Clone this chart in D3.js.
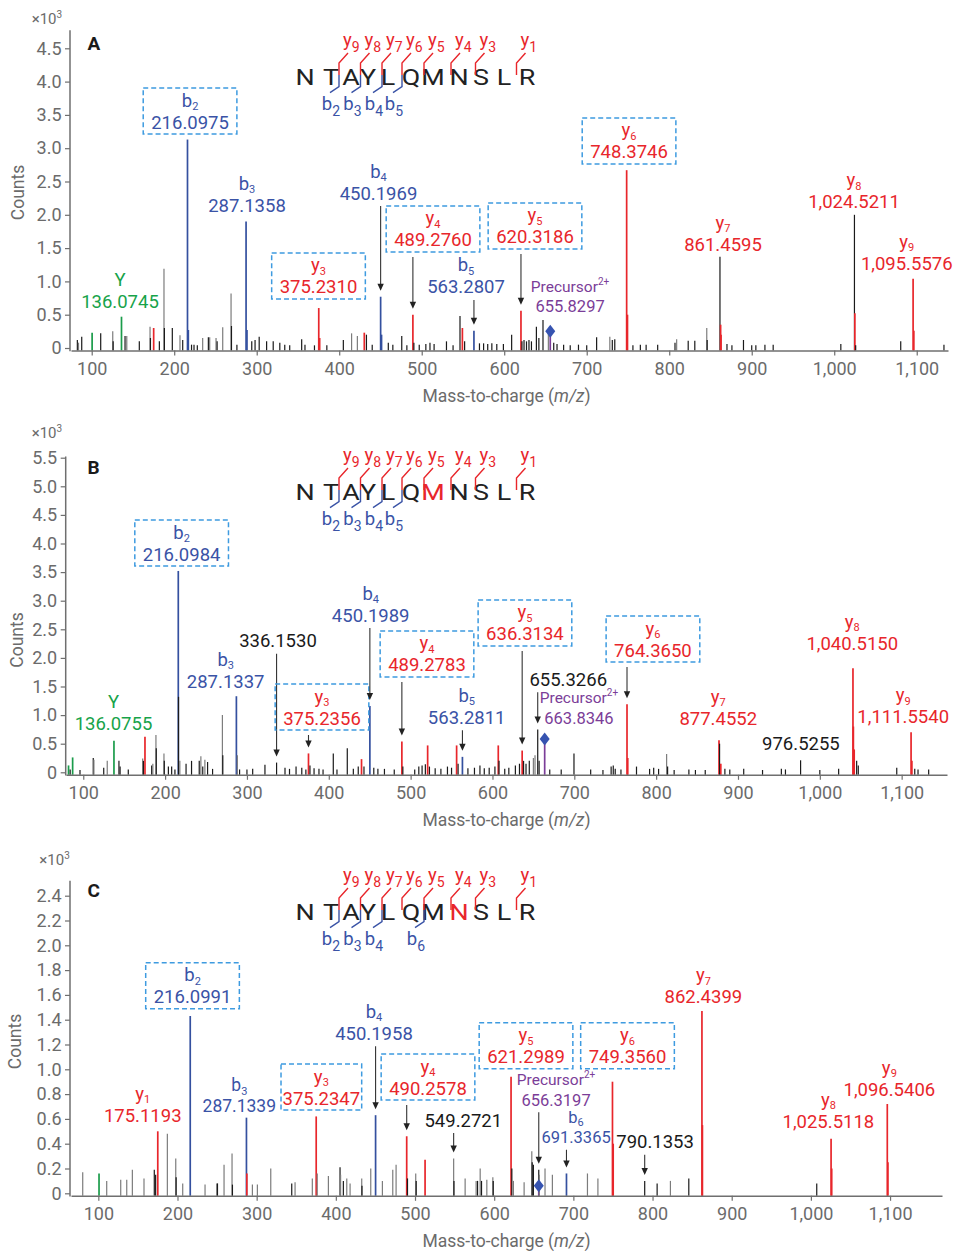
<!DOCTYPE html>
<html><head><meta charset="utf-8">
<script src="https://cdn.jsdelivr.net/npm/d3@7"></script>
<style>body{margin:0;background:#fff}svg{display:block}text{font-family:Roboto,"Noto Sans",sans-serif}</style>
</head><body><svg id="c" width="954" height="1251"></svg>
<script>
// ---------------- DATA ----------------
const peptide = ["N","T","A","Y","L","Q","M","N","S","L","R"];
const xTickValues = [100,200,300,400,500,600,700,800,900,1000,1100];
const yTicksA = [0,0.5,1,1.5,2,2.5,3,3.5,4,4.5];
const yTicksB = [0,0.5,1,1.5,2,2.5,3,3.5,4,4.5,5,5.5];
const yTicksC = [0,0.2,0.4,0.6,0.8,1,1.2,1.4,1.6,1.8,2,2.2,2.4];
const yIonsA = [9,8,7,6,5,4,3,1], bIonsA = [2,3,4,5];
const yIonsB = [9,8,7,6,5,4,3,1], bIonsB = [2,3,4,5];
const yIonsC = [9,8,7,6,5,4,3,1], bIonsC = [2,3,4,6];

// peaks: [m/z, counts (x10^3), type]  k=black g=grey r=y-ion b=b-ion G=immonium p=precursor
const peaksA = [[82.6,0.12,'k'],[84,0.08,'g'],[87.9,0.17,'k'],[100.5,0.23,'G'],[110.9,0.22,'k'],[125.5,0.25,'g'],[126,0.1,'k'],[136.1,0.47,'G'],[140.4,0.18,'k'],[142.5,0.18,'g'],[157.7,0.1,'k'],[170.7,0.32,'g'],[171.2,0.15,'k'],[175.1,0.3,'r'],[182,0.1,'k'],[187.6,1.19,'g'],[188.1,0.3,'k'],[197.7,0.3,'k'],[207,0.19,'g'],[210.3,0.12,'k'],[216.1,3.13,'b'],[217.1,0.27,'b'],[221,0.05,'k'],[224,0.05,'k'],[228,0.04,'k'],[234.5,0.15,'g'],[241.4,0.16,'k'],[243,0.16,'g'],[250.7,0.15,'g'],[252,0.1,'k'],[258.8,0.31,'g'],[268.9,0.82,'g'],[269.4,0.33,'k'],[276,0.05,'k'],[287.1,1.9,'b'],[288.2,0.27,'b'],[294,0.1,'k'],[298,0.12,'k'],[303,0.17,'k'],[312,0.1,'k'],[320,0.1,'k'],[328,0.08,'k'],[334,0.05,'k'],[340,0.04,'k'],[354.5,0.13,'k'],[358.5,0.05,'k'],[370,0.04,'k'],[375.2,0.6,'r'],[376.3,0.15,'r'],[385,0.04,'k'],[405,0.12,'k'],[415,0.22,'g'],[422,0.18,'g'],[430.4,0.23,'r'],[433,0.2,'k'],[440,0.05,'k'],[450.2,0.77,'b'],[451.3,0.2,'b'],[459.5,0.08,'k'],[465,0.05,'k'],[475.8,0.18,'k'],[482,0.04,'k'],[489.3,0.5,'r'],[490.5,0.08,'k'],[497,0.05,'k'],[505,0.06,'k'],[510,0.08,'k'],[515,0.06,'k'],[530,0.1,'k'],[538,0.04,'k'],[546.4,0.48,'k'],[549.3,0.3,'r'],[552,0.1,'k'],[563.3,0.26,'b'],[570,0.07,'k'],[575,0.07,'k'],[580,0.06,'k'],[585,0.07,'k'],[591,0.06,'k'],[599,0.06,'k'],[609,0.2,'k'],[620.3,0.56,'r'],[621.5,0.1,'k'],[624,0.12,'k'],[627,0.1,'k'],[630,0.12,'k'],[633,0.1,'k'],[639,0.32,'k'],[642,0.15,'k'],[647,0.42,'k'],[653.5,0.22,'g'],[655.8,0.25,'p'],[660,0.08,'k'],[664,0.06,'k'],[672,0.05,'k'],[680,0.04,'k'],[690,0.05,'k'],[700,0.04,'k'],[712,0.16,'k'],[728,0.17,'g'],[731,0.12,'k'],[734,0.13,'k'],[748.4,2.67,'r'],[749.4,0.5,'r'],[756,0.04,'k'],[765,0.05,'k'],[772,0.05,'k'],[786,0.05,'k'],[807,0.08,'k'],[809,0.13,'g'],[823,0.11,'k'],[831,0.11,'k'],[845.5,0.3,'g'],[846,0.12,'k'],[861.5,1.37,'k'],[862.3,0.35,'r'],[862.8,0.2,'r'],[870,0.06,'k'],[876,0.04,'k'],[890,0.12,'k'],[900,0.04,'k'],[905,0.04,'k'],[916,0.05,'k'],[926,0.05,'k'],[1008,0.06,'k'],[1024.5,2.0,'k'],[1025,0.52,'r'],[1026,0.04,'k'],[1080.6,0.1,'k'],[1095.6,1.04,'r'],[1096.5,0.26,'r'],[1133,0.05,'k']];

const peaksB = [[82,0.12,'G'],[84,0.05,'k'],[87,0.26,'G'],[96,0.04,'k'],[112.2,0.25,'k'],[113,0.22,'g'],[125,0.08,'k'],[129.3,0.2,'g'],[137.5,0.55,'G'],[143.6,0.2,'k'],[145,0.1,'k'],[155,0.05,'k'],[172.6,0.24,'g'],[173.5,0.2,'k'],[175.4,0.62,'r'],[183.6,0.12,'k'],[185,0.15,'g'],[188.8,0.65,'g'],[189.2,0.42,'k'],[198.6,0.33,'g'],[199,0.2,'k'],[204,0.1,'k'],[208,0.1,'k'],[212,0.05,'k'],[216.1,3.52,'b'],[216.4,1.32,'k'],[218,0.2,'g'],[225.6,0.15,'k'],[232.3,0.2,'k'],[241.7,0.2,'k'],[243.7,0.28,'g'],[246,0.1,'k'],[248.6,0.22,'g'],[251.9,0.18,'k'],[258,0.06,'k'],[270,1.0,'g'],[270.5,0.3,'k'],[287.1,1.33,'b'],[288.3,0.3,'g'],[291,0.05,'k'],[300,0.05,'k'],[307,0.06,'k'],[322,0.13,'k'],[336.2,0.17,'k'],[346.5,0.08,'k'],[352,0.06,'k'],[360,0.1,'k'],[367,0.08,'k'],[372,0.05,'k'],[375.2,0.33,'r'],[377,0.12,'k'],[382,0.07,'k'],[388,0.06,'k'],[393,0.05,'k'],[405.5,0.33,'k'],[410,0.05,'k'],[422.6,0.42,'k'],[430,0.06,'k'],[436,0.1,'k'],[440,0.23,'r'],[443,0.1,'k'],[450.2,1.16,'b'],[455,0.08,'k'],[460,0.06,'k'],[468,0.06,'k'],[480,0.05,'k'],[489.3,0.54,'r'],[490.5,0.1,'k'],[505,0.05,'k'],[510,0.1,'k'],[514,0.12,'k'],[518,0.14,'k'],[520.8,0.47,'r'],[523,0.1,'k'],[530,0.07,'k'],[537,0.06,'k'],[545,0.1,'k'],[550,0.08,'k'],[556.2,0.47,'r'],[558,0.15,'k'],[563.3,0.27,'b'],[570,0.07,'k'],[578,0.08,'k'],[584.7,0.12,'k'],[590,0.07,'k'],[596,0.08,'k'],[603,0.1,'k'],[607.1,0.47,'r'],[608,0.2,'k'],[615,0.06,'k'],[620,0.08,'k'],[628,0.12,'k'],[633,0.15,'k'],[636.3,0.38,'r'],[638,0.2,'k'],[641,0.15,'k'],[645,0.2,'k'],[650,0.25,'g'],[652,0.3,'g'],[655.3,0.75,'k'],[657,0.2,'k'],[663.8,0.58,'p'],[670,0.05,'k'],[684,0.05,'k'],[699.6,0.33,'k'],[720,0.05,'k'],[735,0.04,'k'],[745,0.1,'k'],[747.6,0.12,'k'],[750,0.06,'k'],[757,0.05,'k'],[764.4,1.19,'r'],[765.3,0.25,'r'],[776,0.1,'k'],[792,0.06,'k'],[797,0.08,'k'],[803,0.06,'k'],[812.8,0.32,'g'],[814,0.1,'k'],[822,0.04,'k'],[840,0.05,'k'],[848,0.04,'k'],[860,0.04,'k'],[876.8,0.56,'r'],[877.5,0.5,'k'],[879,0.15,'r'],[884,0.06,'k'],[890,0.05,'k'],[907,0.06,'k'],[930,0.04,'k'],[953,0.06,'k'],[958,0.05,'k'],[976.5,0.21,'k'],[1000,0.04,'k'],[1023,0.06,'k'],[1040.5,1.82,'r'],[1041,0.8,'r'],[1042,0.4,'r'],[1045,0.2,'k'],[1047,0.12,'k'],[1094,0.08,'k'],[1111.5,0.7,'r'],[1112.5,0.2,'r'],[1116,0.06,'k'],[1120,0.05,'k'],[1133,0.05,'k']];

const peaksC = [[80.3,0.17,'g'],[100.9,0.16,'G'],[110.6,0.1,'g'],[128.3,0.11,'g'],[135.9,0.11,'g'],[143,0.19,'g'],[157.7,0.12,'g'],[170.7,0.19,'k'],[172.4,0.15,'k'],[175.1,0.5,'r'],[187.2,0.48,'g'],[197.8,0.28,'g'],[198.3,0.13,'k'],[206.6,0.08,'g'],[216.1,1.43,'b'],[234.8,0.07,'g'],[249.6,0.08,'g'],[250.5,0.08,'k'],[258.8,0.23,'g'],[268.9,0.32,'g'],[269.4,0.07,'k'],[287.1,0.61,'b'],[287.6,0.16,'r'],[294.6,0.07,'g'],[300.9,0.07,'g'],[317.8,0.2,'g'],[344.3,0.08,'k'],[348.5,0.09,'g'],[370.3,0.12,'g'],[375.2,0.62,'r'],[376.5,0.16,'g'],[390.6,0.14,'g'],[405.3,0.21,'k'],[406,0.15,'g'],[409.5,0.1,'k'],[413.8,0.12,'g'],[418,0.08,'g'],[432.7,0.12,'g'],[433,0.06,'k'],[444.1,0.2,'g'],[450.2,0.63,'b'],[458.8,0.1,'g'],[471.9,0.19,'g'],[476.1,0.23,'g'],[489.5,0.46,'r'],[490.5,0.12,'k'],[500.9,0.16,'g'],[501.5,0.1,'k'],[512.7,0.27,'r'],[548.8,0.28,'g'],[549.2,0.1,'k'],[563.3,0.12,'g'],[577.2,0.1,'g'],[579,0.1,'k'],[582.3,0.2,'g'],[584,0.1,'k'],[590.7,0.11,'g'],[598.3,0.13,'g'],[598.8,0.1,'k'],[621.3,0.94,'r'],[622.3,0.2,'k'],[624.3,0.1,'g'],[637.8,0.09,'g'],[647.5,0.34,'g'],[648,0.25,'k'],[649.5,0.23,'k'],[656.3,0.19,'k'],[656.3,0.06,'p'],[657,0.15,'g'],[664.2,0.2,'g'],[673.5,0.15,'g'],[691.3,0.16,'b'],[717.8,0.16,'g'],[731,0.12,'g'],[749.4,0.9,'r'],[750.3,0.4,'r'],[790.1,0.1,'k'],[805.8,0.08,'k'],[822.6,0.1,'g'],[845.8,0.12,'k'],[862.4,1.47,'r'],[863,0.55,'r'],[1007.4,0.08,'k'],[1025.5,0.44,'r'],[1026.3,0.2,'r'],[1096.5,0.72,'r'],[1097.3,0.25,'r']];

// annotations: label text; lx/ly = label anchor in data units; to = m/z pointed at by an arrow
const annA = [
 {s:'box',c:'b',ion:'b',n:'2',v:'216.0975',lx:219.2,ly:3.393},
 {s:'txt',c:'b',ion:'b',n:'3',v:'287.1358',lx:288.2,ly:2.147},
 {s:'txt',c:'G',ion:'Y',n:'',v:'136.0745',lx:134.3,ly:0.691},
 {s:'box',c:'r',ion:'y',n:'3',v:'375.2310',lx:374.9,ly:0.916},
 {s:'txt',c:'b',ion:'b',n:'4',v:'450.1969',lx:447.6,ly:2.327,to:450.2},
 {s:'box',c:'r',ion:'y',n:'4',v:'489.2760',lx:513.7,ly:1.622,to:489.3},
 {s:'txt',c:'b',ion:'b',n:'5',v:'563.2807',lx:553.7,ly:0.916,to:563.3},
 {s:'box',c:'r',ion:'y',n:'5',v:'620.3186',lx:637.3,ly:1.667,to:620.3},
 {s:'txt',c:'p',ion:'Precursor',sup:'2+',v:'655.8297',lx:679.8,ly:0.635,dia:655.8},
 {s:'box',c:'r',ion:'y',n:'6',v:'748.3746',lx:751.3,ly:2.943},
 {s:'txt',c:'r',ion:'y',n:'7',v:'861.4595',lx:865.2,ly:1.557},
 {s:'txt',c:'r',ion:'y',n:'8',v:'1,024.5211',lx:1024,ly:2.197},
 {s:'txt',c:'r',ion:'y',n:'9',v:'1,095.5576',lx:1087.9,ly:1.272}
];
const annB = [
 {s:'box',c:'b',ion:'b',n:'2',v:'216.0984',lx:220.2,ly:3.816},
 {s:'txt',c:'G',ion:'Y',n:'',v:'136.0755',lx:136.9,ly:0.857},
 {s:'txt',c:'b',ion:'b',n:'3',v:'287.1337',lx:274.0,ly:1.596},
 {s:'txt',c:'k',ion:'',n:'',v:'336.1530',lx:337.9,ly:2.301,to:336.2},
 {s:'box',c:'r',ion:'y',n:'3',v:'375.2356',lx:391.7,ly:0.949,to:375.2},
 {s:'txt',c:'b',ion:'b',n:'4',v:'450.1989',lx:451.2,ly:2.75,to:450.2},
 {s:'box',c:'r',ion:'y',n:'4',v:'489.2783',lx:520,ly:1.876,to:489.3},
 {s:'txt',c:'b',ion:'b',n:'5',v:'563.2811',lx:568.5,ly:0.962,to:563.3},
 {s:'box',c:'r',ion:'y',n:'5',v:'636.3134',lx:639.7,ly:2.418,to:636.3},
 {s:'txt',c:'k',ion:'',n:'',v:'655.3266',lx:692.6,ly:1.626,to:655.3},
 {s:'txt',c:'p',ion:'Precursor',sup:'2+',v:'663.8346',lx:705.7,ly:0.962,dia:663.8},
 {s:'box',c:'r',ion:'y',n:'6',v:'764.3650',lx:796.1,ly:2.138,to:764.4},
 {s:'txt',c:'r',ion:'y',n:'7',v:'877.4552',lx:875.9,ly:0.944},
 {s:'txt',c:'k',ion:'',n:'',v:'976.5255',lx:976.9,ly:0.507},
 {s:'txt',c:'r',ion:'y',n:'8',v:'1,040.5150',lx:1039.6,ly:2.255},
 {s:'txt',c:'r',ion:'y',n:'9',v:'1,111.5540',lx:1101.9,ly:0.972}
];
const annC = [
 {s:'box',c:'b',ion:'b',n:'2',v:'216.0991',lx:219,ly:1.585},
 {s:'txt',c:'r',ion:'y',n:'1',v:'175.1193',lx:156.1,ly:0.631},
 {s:'txt',c:'b',ion:'b',n:'3',v:'287.1339',lx:278.1,ly:0.712,sz:'m'},
 {s:'box',c:'r',ion:'y',n:'3',v:'375.2347',lx:381.7,ly:0.768,tight:true},
 {s:'txt',c:'b',ion:'b',n:'4',v:'450.1958',lx:448.2,ly:1.29,to:450.2},
 {s:'box',c:'r',ion:'y',n:'4',v:'490.2578',lx:516.4,ly:0.849,to:489.5},
 {s:'txt',c:'k',ion:'',n:'',v:'549.2721',lx:561,ly:0.591,to:548.8},
 {s:'box',c:'r',ion:'y',n:'5',v:'621.2989',lx:640.2,ly:1.102},
 {s:'box',c:'r',ion:'y',n:'6',v:'749.3560',lx:768.4,ly:1.102},
 {s:'txt',c:'p',ion:'Precursor',sup:'2+',v:'656.3197',lx:678.1,ly:0.758,to:656.3,dia:656.3},
 {s:'txt',c:'b',ion:'b',n:'6',v:'691.3365',lx:703.4,ly:0.456,to:691.3,sz:'s'},
 {s:'txt',c:'k',ion:'',n:'',v:'790.1353',lx:803.2,ly:0.416,to:790.1},
 {s:'txt',c:'r',ion:'y',n:'7',v:'862.4399',lx:864.2,ly:1.585},
 {s:'txt',c:'r',ion:'y',n:'8',v:'1,025.5118',lx:1022.1,ly:0.583},
 {s:'txt',c:'r',ion:'y',n:'9',v:'1,096.5406',lx:1099.1,ly:0.839}
];

// ---------------- LAYOUT / STYLE ----------------
const panels = [
 {key:'A',peaks:peaksA,ann:annA,yt:yTicksA,yI:yIonsA,bI:bIonsA,hl:-1,
  ax:70,xr:[71,948],xd:[74.9,1137.9],y0:348,k:66.6,ymax:4.77,pepB:85,letY:50,expX:31.7,expY:24,cX:18.3,cY:192.5,tY:402},
 {key:'B',peaks:peaksB,ann:annB,yt:yTicksB,yI:yIonsB,bI:bIonsB,hl:6,
  ax:65.7,xr:[66,947],xd:[78.9,1155.4],y0:772.3,k:57.2,ymax:5.52,pepB:500,letY:474,expX:31.7,expY:438,cX:17,cY:640,tY:826},
 {key:'C',peaks:peaksC,ann:annC,yt:yTicksC,yI:yIonsC,bI:bIonsC,hl:7,
  ax:70,xr:[71,942],xd:[65.5,1165.6],y0:1193.3,k:124,ymax:2.52,pepB:920,letY:896.7,expX:39.3,expY:865,cX:15,cY:1041.5,tY:1247}
];
const letterX = [305,331,351,368,388,411,433,459,481,504,527];
const bound = {1:318,2:339,3:360.5,4:382,5:402,6:424,7:451,8:475.5,9:494,10:516.5};
const PC = {k:'#1a1a1a',g:'#7c7c7c',r:'#e8262b',b:'#34509f',G:'#1b9c4b',p:'#7b3d98'};
const TC = {k:'#1a1a1a',r:'#e8262b',b:'#3a53a6',G:'#17a34a',p:'#7b3d98'};
const SIZES = {l:18.5, m:17.5, s:16.5};
const GREY = '#6b6b6b', AXC = '#6f6f6f', BOX = '#3e9be0';
const FONT = 'Roboto, "Noto Sans", sans-serif';

const svg = d3.select('#c');

panels.forEach(P => {
  const g = svg.append('g');
  const x = d3.scaleLinear().domain(P.xd).range(P.xr);
  const y = d3.scaleLinear().domain([0, P.ymax]).range([P.y0, P.y0 - P.ymax * P.k]);
  const axisY = P.y0 + 2.5;

  // peaks
  g.append('g').selectAll('line').data(P.peaks).join('line')
    .attr('x1', d => x(d[0])).attr('x2', d => x(d[0]))
    .attr('y1', axisY).attr('y2', d => y(d[1]))
    .attr('stroke', d => PC[d[2]])
    .attr('stroke-width', d => (d[2] === 'k' || d[2] === 'g') ? 1.2 : 1.7);

  // x axis
  const xa = g.append('g').attr('transform', `translate(0,${axisY})`)
    .call(d3.axisBottom(x).tickValues(xTickValues).tickFormat(d3.format(',')).tickSize(5).tickSizeOuter(0).tickPadding(6.5));
  xa.attr('font-family', FONT).attr('font-size', 18);
  xa.select('.domain').attr('stroke', AXC).attr('stroke-width', 1.5);
  xa.selectAll('.tick line').attr('stroke', AXC).attr('stroke-width', 1.2);
  xa.selectAll('.tick text').attr('fill', GREY);

  // y axis
  const ya = g.append('g').attr('transform', `translate(${P.ax},0)`)
    .call(d3.axisLeft(y).tickValues(P.yt).tickFormat(d => d === 0 ? '0' : d.toFixed(1)).tickSize(5).tickSizeOuter(0).tickPadding(3.5));
  ya.attr('font-family', FONT).attr('font-size', 18);
  ya.select('.domain').remove();
  ya.selectAll('.tick line').attr('stroke', AXC).attr('stroke-width', 1.2);
  ya.selectAll('.tick text').attr('fill', GREY);
  g.append('line').attr('x1', P.ax).attr('x2', P.ax).attr('y1', y(P.ymax)).attr('y2', axisY + 0.75)
    .attr('stroke', AXC).attr('stroke-width', 1.5);

  // axis texts
  const ex = g.append('text').attr('x', P.expX).attr('y', P.expY).attr('font-size', 15).attr('fill', GREY).text('×10');
  ex.append('tspan').attr('font-size', 10).attr('dy', -6).text('3');
  g.append('text').attr('transform', `translate(${P.cX + 6},${P.cY}) rotate(-90)`).attr('text-anchor', 'middle')
    .attr('font-size', 17.5).attr('fill', GREY).text('Counts');
  const tt = g.append('text').attr('x', 506.5).attr('y', P.tY).attr('text-anchor', 'middle').attr('font-size', 17.5).attr('fill', GREY);
  tt.append('tspan').text('Mass-to-charge (');
  tt.append('tspan').attr('font-style', 'italic').text('m/z');
  tt.append('tspan').text(')');
  g.append('text').attr('x', 87.5).attr('y', P.letY).attr('font-size', 19).attr('font-weight', 'bold').attr('fill', '#1a1a1a').text(P.key);

  // peptide sequence
  const B = P.pepB;
  peptide.forEach((L, i) => {
    g.append('text').attr('transform', `translate(${letterX[i]},${B}) scale(1.25,1)`).attr('text-anchor', 'middle')
      .attr('font-size', 21.5).attr('fill', i === P.hl ? '#e8262b' : '#222').text(L);
  });
  P.yI.forEach(n => {
    const bx = bound[11 - n];
    g.append('path').attr('d', `M${bx},${B - 10}V${B - 22}L${bx + 9},${B - 32}`)
      .attr('fill', 'none').attr('stroke', '#e8262b').attr('stroke-width', 1.4);
    const t = g.append('text').attr('x', bx + 4).attr('y', B - 39).attr('font-size', 18.5).attr('fill', '#e8262b').text('y');
    t.append('tspan').attr('font-size', 14).attr('dy', 5.5).text(n);
  });
  P.bI.forEach(n => {
    const bx = bound[n];
    g.append('path').attr('d', `M${bx},${B - 10}V${B + 1.7}L${bx - 9},${B + 7.7}`)
      .attr('fill', 'none').attr('stroke', '#3a53a6').attr('stroke-width', 1.4);
    const t = g.append('text').attr('x', bx + 1).attr('y', B + 25).attr('text-anchor', 'end').attr('font-size', 18.5).attr('fill', '#3a53a6').text('b');
    t.append('tspan').attr('font-size', 14).attr('dy', 5.5).text(n);
  });

  // annotations
  P.ann.forEach(a => {
    const cx = x(a.lx), vc = y(a.ly);
    const col = TC[a.c];
    const fs = a.ion === 'Precursor' ? SIZES.s : SIZES[a.sz || 'l'];
    const vt = g.append('text').attr('x', cx).attr('y', vc + 6.5).attr('text-anchor', 'middle')
      .attr('font-size', fs).attr('fill', col).text(a.v);
    if (a.ion) {
      const it = g.append('text').attr('x', cx).attr('y', vc - (fs < 18 ? 14 : 15.5)).attr('text-anchor', 'middle')
        .attr('font-size', a.ion === 'Precursor' ? 15.5 : fs).attr('fill', col);
      it.append('tspan').text(a.ion);
      if (a.n) it.append('tspan').attr('font-size', 11).attr('dy', 3.5).text(a.n);
      if (a.sup) it.append('tspan').attr('font-size', 10).attr('dy', -7).text(a.sup);
    }
    let start = vc + 13;
    if (a.s === 'box') {
      const w = vt.node().getComputedTextLength() + (a.tight ? 3 : 16);
      g.append('rect').attr('x', cx - w / 2).attr('y', vc - 34).attr('width', w).attr('height', 46)
        .attr('fill', 'none').attr('stroke', BOX).attr('stroke-width', 1.5).attr('stroke-dasharray', '5,3');
      start = vc + 12 + 5;
    }
    if (a.to !== undefined) {
      const near = P.peaks.filter(p => Math.abs(p[0] - a.to) <= 1.2);
      const h = d3.max(near, p => p[1]);
      const ax = x(a.to), tip = y(h) - 6;
      g.append('line').attr('x1', ax).attr('x2', ax).attr('y1', start).attr('y2', tip - 6)
        .attr('stroke', '#333').attr('stroke-width', 1.1);
      g.append('path').attr('d', `M${ax - 3.2},${tip - 7}L${ax + 3.2},${tip - 7}L${ax},${tip}Z`).attr('fill', '#222');
    }
    if (a.dia !== undefined) {
      const pk = P.peaks.filter(p => p[2] === 'p' && Math.abs(p[0] - a.dia) <= 1.2);
      const dx = x(a.dia), dy = y(d3.max(pk, p => p[1]));
      g.append('path').attr('d', `M${dx},${dy - 6.5}L${dx + 5},${dy}L${dx},${dy + 6.5}L${dx - 5},${dy}Z`).attr('fill', '#3653b0');
    }
  });
});
</script></body></html>
